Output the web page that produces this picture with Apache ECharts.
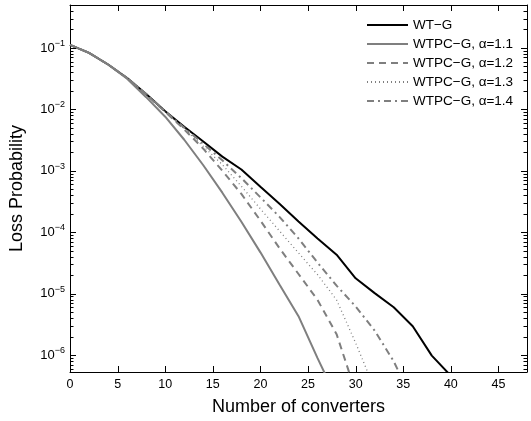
<!DOCTYPE html>
<html>
<head>
<meta charset="utf-8">
<script src="https://cdn.jsdelivr.net/npm/echarts@6/dist/echarts.min.js"></script>
<style>
  html, body { margin: 0; padding: 0; background: #fff; }
  #chart { width: 531px; height: 421px; }
</style>
</head>
<body>
<div id="chart"></div>
<script>
// number of converters (x), sampled every 2
const converters = [0, 2, 4, 6, 8, 10, 12, 14, 16, 18, 20, 22, 24, 26, 28, 30, 32, 34, 36, 38, 40];

// loss probability
const wtG = [0.112, 0.0832, 0.0537, 0.0324, 0.0178, 0.0093, 0.0052, 0.0030, 0.0017, 1.05e-3, 5.5e-4, 2.9e-4, 1.5e-4, 7.9e-5, 4.3e-5, 1.78e-5, 1.02e-5, 6.0e-6, 2.95e-6, 9.8e-7, 4.6e-7];
const wtpc11 = [0.112, 0.0832, 0.0537, 0.0316, 0.0158, 7.6e-3, 3.2e-3, 1.23e-3, 4.4e-4, 1.48e-4, 4.7e-5, 1.41e-5, 4.3e-6, 8.9e-7, 2.0e-7];
const wtpc12 = [0.112, 0.0832, 0.0537, 0.0324, 0.0174, 9.1e-3, 4.7e-3, 2.29e-3, 1.0e-3, 4.2e-4, 1.55e-4, 5.5e-5, 2.09e-5, 7.9e-6, 2.19e-6, 2.5e-7];
const wtpc13 = [0.112, 0.0832, 0.0537, 0.0324, 0.0178, 9.1e-3, 4.8e-3, 2.5e-3, 1.26e-3, 5.6e-4, 2.4e-4, 1.05e-4, 4.6e-5, 2.04e-5, 7.9e-6, 1.58e-6, 2.8e-7];
const wtpc14 = [0.112, 0.0832, 0.0537, 0.0324, 0.0178, 9.3e-3, 5.0e-3, 2.75e-3, 1.48e-3, 7.6e-4, 3.7e-4, 1.78e-4, 7.9e-5, 3.2e-5, 1.35e-5, 6.2e-6, 2.5e-6, 7.9e-7, 1.8e-7];

const seriesNames = ['WT\u2212G', 'WTPC\u2212G, \u03b1=1.1', 'WTPC\u2212G, \u03b1=1.2', 'WTPC\u2212G, \u03b1=1.3', 'WTPC\u2212G, \u03b1=1.4'];

// tick labels
const xTicks = [0, 5, 10, 15, 20, 25, 30, 35, 40, 45];
const yDecades = [1e-6, 1e-5, 1e-4, 1e-3, 1e-2, 1e-1];

const xMin = 0;
const xMax = 48;
const yMin = 5.3e-7;
const yMax = 0.5;
const font = 'Liberation Sans, Arial, sans-serif';
const gray = '#7f7f7f';

// minor ticks 2..9 for each decade
const yMinor = [];
for (let e = -7; e <= -1; e++) {
  for (let m = 2; m <= 9; m++) {
    const v = m * Math.pow(10, e);
    if (v > yMin && v < yMax) yMinor.push(v);
  }
}

const toPairs = (vals) => vals.map((v, i) => [converters[i], v]);

const chart = echarts.init(document.getElementById('chart'), null, { renderer: 'canvas' });

const tickLine = (x1, y1, x2, y2) => ({
  type: 'line',
  shape: { x1: x1, y1: y1, x2: x2, y2: y2 },
  style: { stroke: '#000', lineWidth: 1 }
});

// inward ticks on all four sides (matlab-like box), placed through the axes' scales
const yTickSeries = (values, len) => ({
  type: 'custom',
  coordinateSystem: 'cartesian2d',
  silent: true,
  clip: false,
  z: 10,
  data: values.map(v => [xMin, v]),
  renderItem: (params, api) => {
    const l = api.coord([xMin, api.value(1)]);
    const r = api.coord([xMax, api.value(1)]);
    const y = Math.round(l[1]) + 0.5;
    return {
      type: 'group',
      children: [tickLine(l[0], y, l[0] + len, y), tickLine(r[0], y, r[0] - len, y)]
    };
  }
});

const xTickSeries = (values, len) => ({
  type: 'custom',
  coordinateSystem: 'cartesian2d',
  silent: true,
  clip: false,
  z: 10,
  data: values.map(v => [v, yMax]),
  renderItem: (params, api) => {
    const b = api.coord([api.value(0), yMin]);
    const t = api.coord([api.value(0), yMax]);
    const x = Math.round(b[0]) + 0.5;
    return {
      type: 'group',
      children: [tickLine(x, b[1], x, b[1] - len), tickLine(x, t[1], x, t[1] + len)]
    };
  }
});

const option = {
  animation: false,
  backgroundColor: '#fff',
  grid: { left: 67, top: 5, right: 4, bottom: 47, containLabel: false },
  legend: {
    orient: 'vertical',
    left: 361,
    top: 13,
    itemWidth: 41,
    itemHeight: 12,
    itemGap: 5,
    itemStyle: { opacity: 0 },
    textStyle: { fontFamily: font, fontSize: 13.5, color: '#000' },
    data: seriesNames
  },
  xAxis: [
    {
      type: 'value',
      position: 'bottom',
      min: xMin,
      max: xMax,
      name: 'Number of converters',
      nameLocation: 'middle',
      nameGap: 26,
      nameTextStyle: { fontFamily: font, fontSize: 18, color: '#000' },
      axisLine: { show: true, onZero: false, lineStyle: { color: '#000', width: 1 } },
      axisTick: { show: false },
      axisLabel: { customValues: xTicks, fontFamily: font, fontSize: 12.5, color: '#000', margin: 6 },
      splitLine: { show: false }
    },
    {
      type: 'value',
      position: 'top',
      min: xMin,
      max: xMax,
      axisLine: { show: true, onZero: false, lineStyle: { color: '#000', width: 1 } },
      axisTick: { show: false },
      axisLabel: { show: false },
      splitLine: { show: false }
    }
  ],
  yAxis: [
    {
      type: 'log',
      logBase: 10,
      position: 'left',
      min: yMin,
      max: yMax,
      name: 'Loss Probability',
      nameLocation: 'middle',
      nameGap: 44,
      nameRotate: 90,
      nameTextStyle: { fontFamily: font, fontSize: 18, color: '#000' },
      axisLine: { show: true, onZero: false, lineStyle: { color: '#000', width: 1 } },
      axisTick: { show: false },
      splitLine: { show: false },
      minorTick: { show: false },
      axisLabel: {
        show: true,
        customValues: yDecades,
        margin: 5,
        formatter: (value) => '{b|10}{s|\u2212' + Math.abs(Math.round(Math.log10(value))) + '}',
        rich: {
          b: { fontFamily: font, fontSize: 13, color: '#000' },
          s: { fontFamily: font, fontSize: 9, color: '#000', padding: [0, 0, 9, 0] }
        }
      }
    },
    {
      type: 'log',
      logBase: 10,
      position: 'right',
      min: yMin,
      max: yMax,
      axisLine: { show: true, onZero: false, lineStyle: { color: '#000', width: 1 } },
      axisTick: { show: false },
      axisLabel: { show: false },
      splitLine: { show: false },
      minorTick: { show: false }
    }
  ],
  series: [
    {
      name: seriesNames[0], type: 'line', symbol: 'none', clip: true,
      lineStyle: { color: '#000', width: 2 }, itemStyle: { color: '#000' },
      data: toPairs(wtG)
    },
    {
      name: seriesNames[1], type: 'line', symbol: 'none', clip: true,
      lineStyle: { color: gray, width: 2 }, itemStyle: { color: gray },
      data: toPairs(wtpc11)
    },
    {
      name: seriesNames[2], type: 'line', symbol: 'none', clip: true,
      lineStyle: { color: gray, width: 2, type: [7, 5] }, itemStyle: { color: gray },
      data: toPairs(wtpc12)
    },
    {
      name: seriesNames[3], type: 'line', symbol: 'none', clip: true,
      lineStyle: { color: gray, width: 1.3, type: [1, 3] }, itemStyle: { color: gray },
      data: toPairs(wtpc13)
    },
    {
      name: seriesNames[4], type: 'line', symbol: 'none', clip: true,
      lineStyle: { color: gray, width: 2, type: [7, 4, 2, 4] }, itemStyle: { color: gray },
      data: toPairs(wtpc14)
    },
    yTickSeries(yDecades, 6),
    yTickSeries(yMinor, 3.5),
    xTickSeries(xTicks, 6)
  ]
};

chart.setOption(option);
</script>
</body>
</html>
